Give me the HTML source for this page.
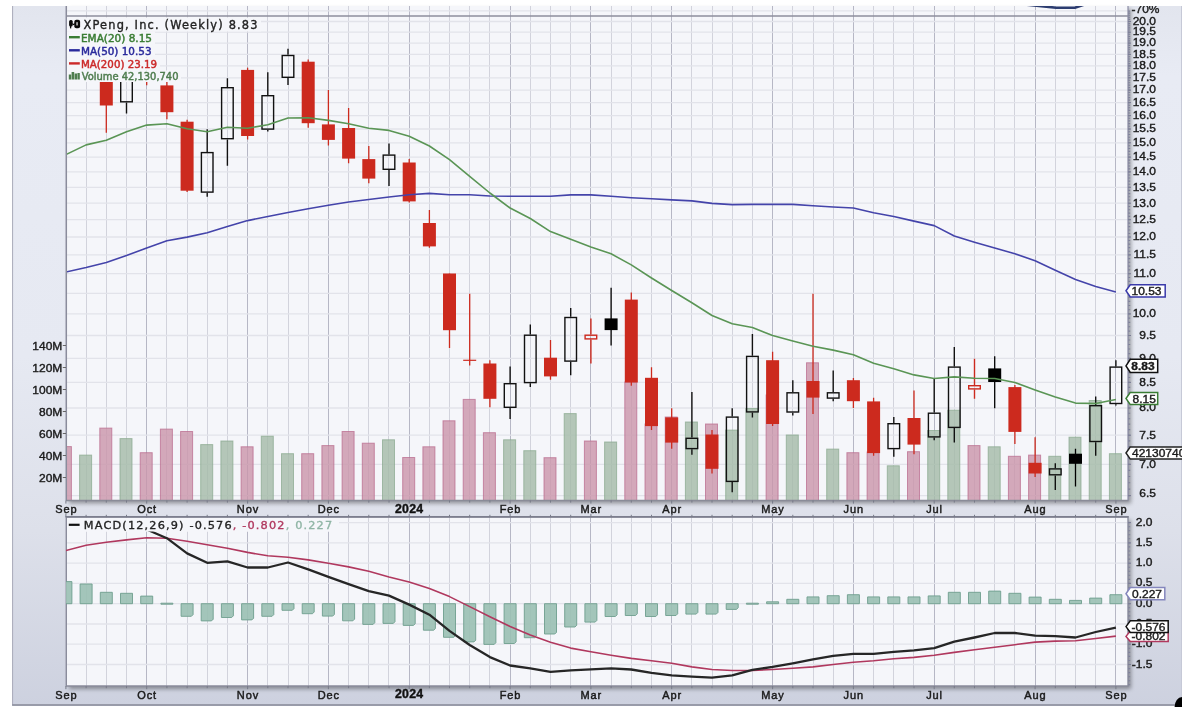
<!DOCTYPE html>
<html lang="en"><head><meta charset="utf-8"><title>XPeng, Inc. (Weekly)</title>
<style>
html,body{margin:0;padding:0;background:#fff;}
body{width:1190px;height:714px;overflow:hidden;}
svg{display:block;}
text{font-family:"Liberation Sans",sans-serif;font-size:12px;fill:#1a1a1a;stroke:#1a1a1a;stroke-width:0.38px;}
.dj{font-family:"DejaVu Sans","Liberation Sans",sans-serif;}
.djc{font-family:"DejaVu Sans Condensed","DejaVu Sans","Liberation Sans",sans-serif;}
</style></head><body>
<svg width="1190" height="714" viewBox="0 0 1190 714">
<defs>
<linearGradient id="bg" x1="0" y1="0" x2="0" y2="1"><stop offset="0" stop-color="#e2e5ee"/><stop offset="0.1" stop-color="#e8ebf4"/><stop offset="0.5" stop-color="#e6e9f2"/><stop offset="0.75" stop-color="#dde0ea"/><stop offset="1" stop-color="#cdd1df"/></linearGradient>
<filter id="sh" x="-2%" y="-2%" width="106%" height="108%"><feGaussianBlur in="SourceAlpha" stdDeviation="2.2"/><feOffset dx="3" dy="2.6"/><feComponentTransfer><feFuncA type="linear" slope="0.36"/></feComponentTransfer><feMerge><feMergeNode/><feMergeNode in="SourceGraphic"/></feMerge></filter>
<clipPath id="cm"><rect x="66.0" y="6.0" width="1062.0" height="494.4"/></clipPath>
<clipPath id="cd"><rect x="66.0" y="516.8" width="1062.0" height="169.2"/></clipPath>
<clipPath id="cg"><rect x="12.1" y="6" width="1169.9" height="699.9"/></clipPath>
</defs>
<rect x="12.1" y="6" width="1169.9" height="699.9" fill="url(#bg)"/>
<path d="M12.6 6V705H1182" fill="none" stroke="#a9abb9" stroke-width="1"/><path d="M1181.5 6V705" fill="none" stroke="#c6c9d7" stroke-width="1"/>
<path d="M12.1 705.1H1182" fill="none" stroke="#8d8f9e" stroke-width="1.5"/>
<path d="M1174.6 706.9A7.4 9.9 0 0 1 1182 697V706.9Z" fill="#000"/>
<g filter="url(#sh)"><rect x="66.0" y="6.0" width="1062.0" height="494.4" fill="#f5f6fa"/><rect x="66.0" y="516.8" width="1062.0" height="169.2" fill="#f5f6fa"/></g>
<g fill="none"><path d="M86.5 6.0V500.4" stroke="#d2d3dc" stroke-width="1"/><path d="M86.5 516.8V686.0" stroke="#d2d3dc" stroke-width="1"/><path d="M106.5 6.0V500.4" stroke="#d2d3dc" stroke-width="1"/><path d="M106.5 516.8V686.0" stroke="#d2d3dc" stroke-width="1"/><path d="M126.5 6.0V500.4" stroke="#d2d3dc" stroke-width="1"/><path d="M126.5 516.8V686.0" stroke="#d2d3dc" stroke-width="1"/><path d="M146.5 6.0V500.4" stroke="#b6b7c5" stroke-width="1"/><path d="M146.5 516.8V686.0" stroke="#b6b7c5" stroke-width="1"/><path d="M166.5 6.0V500.4" stroke="#d2d3dc" stroke-width="1"/><path d="M166.5 516.8V686.0" stroke="#d2d3dc" stroke-width="1"/><path d="M187.5 6.0V500.4" stroke="#d2d3dc" stroke-width="1"/><path d="M187.5 516.8V686.0" stroke="#d2d3dc" stroke-width="1"/><path d="M207.5 6.0V500.4" stroke="#d2d3dc" stroke-width="1"/><path d="M207.5 516.8V686.0" stroke="#d2d3dc" stroke-width="1"/><path d="M227.5 6.0V500.4" stroke="#d2d3dc" stroke-width="1"/><path d="M227.5 516.8V686.0" stroke="#d2d3dc" stroke-width="1"/><path d="M247.5 6.0V500.4" stroke="#b6b7c5" stroke-width="1"/><path d="M247.5 516.8V686.0" stroke="#b6b7c5" stroke-width="1"/><path d="M267.5 6.0V500.4" stroke="#d2d3dc" stroke-width="1"/><path d="M267.5 516.8V686.0" stroke="#d2d3dc" stroke-width="1"/><path d="M288.5 6.0V500.4" stroke="#d2d3dc" stroke-width="1"/><path d="M288.5 516.8V686.0" stroke="#d2d3dc" stroke-width="1"/><path d="M308.5 6.0V500.4" stroke="#d2d3dc" stroke-width="1"/><path d="M308.5 516.8V686.0" stroke="#d2d3dc" stroke-width="1"/><path d="M328.5 6.0V500.4" stroke="#b6b7c5" stroke-width="1"/><path d="M328.5 516.8V686.0" stroke="#b6b7c5" stroke-width="1"/><path d="M348.5 6.0V500.4" stroke="#d2d3dc" stroke-width="1"/><path d="M348.5 516.8V686.0" stroke="#d2d3dc" stroke-width="1"/><path d="M368.5 6.0V500.4" stroke="#d2d3dc" stroke-width="1"/><path d="M368.5 516.8V686.0" stroke="#d2d3dc" stroke-width="1"/><path d="M388.5 6.0V500.4" stroke="#d2d3dc" stroke-width="1"/><path d="M388.5 516.8V686.0" stroke="#d2d3dc" stroke-width="1"/><path d="M409.5 6.0V500.4" stroke="#b6b7c5" stroke-width="1"/><path d="M409.5 516.8V686.0" stroke="#b6b7c5" stroke-width="1"/><path d="M429.5 6.0V500.4" stroke="#d2d3dc" stroke-width="1"/><path d="M429.5 516.8V686.0" stroke="#d2d3dc" stroke-width="1"/><path d="M449.5 6.0V500.4" stroke="#d2d3dc" stroke-width="1"/><path d="M449.5 516.8V686.0" stroke="#d2d3dc" stroke-width="1"/><path d="M469.5 6.0V500.4" stroke="#d2d3dc" stroke-width="1"/><path d="M469.5 516.8V686.0" stroke="#d2d3dc" stroke-width="1"/><path d="M489.5 6.0V500.4" stroke="#d2d3dc" stroke-width="1"/><path d="M489.5 516.8V686.0" stroke="#d2d3dc" stroke-width="1"/><path d="M510.5 6.0V500.4" stroke="#b6b7c5" stroke-width="1"/><path d="M510.5 516.8V686.0" stroke="#b6b7c5" stroke-width="1"/><path d="M530.5 6.0V500.4" stroke="#d2d3dc" stroke-width="1"/><path d="M530.5 516.8V686.0" stroke="#d2d3dc" stroke-width="1"/><path d="M550.5 6.0V500.4" stroke="#d2d3dc" stroke-width="1"/><path d="M550.5 516.8V686.0" stroke="#d2d3dc" stroke-width="1"/><path d="M570.5 6.0V500.4" stroke="#d2d3dc" stroke-width="1"/><path d="M570.5 516.8V686.0" stroke="#d2d3dc" stroke-width="1"/><path d="M590.5 6.0V500.4" stroke="#b6b7c5" stroke-width="1"/><path d="M590.5 516.8V686.0" stroke="#b6b7c5" stroke-width="1"/><path d="M611.5 6.0V500.4" stroke="#d2d3dc" stroke-width="1"/><path d="M611.5 516.8V686.0" stroke="#d2d3dc" stroke-width="1"/><path d="M631.5 6.0V500.4" stroke="#d2d3dc" stroke-width="1"/><path d="M631.5 516.8V686.0" stroke="#d2d3dc" stroke-width="1"/><path d="M651.5 6.0V500.4" stroke="#d2d3dc" stroke-width="1"/><path d="M651.5 516.8V686.0" stroke="#d2d3dc" stroke-width="1"/><path d="M671.5 6.0V500.4" stroke="#b6b7c5" stroke-width="1"/><path d="M671.5 516.8V686.0" stroke="#b6b7c5" stroke-width="1"/><path d="M691.5 6.0V500.4" stroke="#d2d3dc" stroke-width="1"/><path d="M691.5 516.8V686.0" stroke="#d2d3dc" stroke-width="1"/><path d="M712.5 6.0V500.4" stroke="#d2d3dc" stroke-width="1"/><path d="M712.5 516.8V686.0" stroke="#d2d3dc" stroke-width="1"/><path d="M732.5 6.0V500.4" stroke="#d2d3dc" stroke-width="1"/><path d="M732.5 516.8V686.0" stroke="#d2d3dc" stroke-width="1"/><path d="M752.5 6.0V500.4" stroke="#d2d3dc" stroke-width="1"/><path d="M752.5 516.8V686.0" stroke="#d2d3dc" stroke-width="1"/><path d="M772.5 6.0V500.4" stroke="#b6b7c5" stroke-width="1"/><path d="M772.5 516.8V686.0" stroke="#b6b7c5" stroke-width="1"/><path d="M792.5 6.0V500.4" stroke="#d2d3dc" stroke-width="1"/><path d="M792.5 516.8V686.0" stroke="#d2d3dc" stroke-width="1"/><path d="M813.5 6.0V500.4" stroke="#d2d3dc" stroke-width="1"/><path d="M813.5 516.8V686.0" stroke="#d2d3dc" stroke-width="1"/><path d="M833.5 6.0V500.4" stroke="#d2d3dc" stroke-width="1"/><path d="M833.5 516.8V686.0" stroke="#d2d3dc" stroke-width="1"/><path d="M853.5 6.0V500.4" stroke="#b6b7c5" stroke-width="1"/><path d="M853.5 516.8V686.0" stroke="#b6b7c5" stroke-width="1"/><path d="M873.5 6.0V500.4" stroke="#d2d3dc" stroke-width="1"/><path d="M873.5 516.8V686.0" stroke="#d2d3dc" stroke-width="1"/><path d="M893.5 6.0V500.4" stroke="#d2d3dc" stroke-width="1"/><path d="M893.5 516.8V686.0" stroke="#d2d3dc" stroke-width="1"/><path d="M913.5 6.0V500.4" stroke="#d2d3dc" stroke-width="1"/><path d="M913.5 516.8V686.0" stroke="#d2d3dc" stroke-width="1"/><path d="M934.5 6.0V500.4" stroke="#b6b7c5" stroke-width="1"/><path d="M934.5 516.8V686.0" stroke="#b6b7c5" stroke-width="1"/><path d="M954.5 6.0V500.4" stroke="#d2d3dc" stroke-width="1"/><path d="M954.5 516.8V686.0" stroke="#d2d3dc" stroke-width="1"/><path d="M974.5 6.0V500.4" stroke="#d2d3dc" stroke-width="1"/><path d="M974.5 516.8V686.0" stroke="#d2d3dc" stroke-width="1"/><path d="M994.5 6.0V500.4" stroke="#d2d3dc" stroke-width="1"/><path d="M994.5 516.8V686.0" stroke="#d2d3dc" stroke-width="1"/><path d="M1014.5 6.0V500.4" stroke="#d2d3dc" stroke-width="1"/><path d="M1014.5 516.8V686.0" stroke="#d2d3dc" stroke-width="1"/><path d="M1035.5 6.0V500.4" stroke="#b6b7c5" stroke-width="1"/><path d="M1035.5 516.8V686.0" stroke="#b6b7c5" stroke-width="1"/><path d="M1055.5 6.0V500.4" stroke="#d2d3dc" stroke-width="1"/><path d="M1055.5 516.8V686.0" stroke="#d2d3dc" stroke-width="1"/><path d="M1075.5 6.0V500.4" stroke="#d2d3dc" stroke-width="1"/><path d="M1075.5 516.8V686.0" stroke="#d2d3dc" stroke-width="1"/><path d="M1095.5 6.0V500.4" stroke="#d2d3dc" stroke-width="1"/><path d="M1095.5 516.8V686.0" stroke="#d2d3dc" stroke-width="1"/><path d="M1115.5 6.0V500.4" stroke="#b6b7c5" stroke-width="1"/><path d="M1115.5 516.8V686.0" stroke="#b6b7c5" stroke-width="1"/><path d="M66.0 495.6H1128.0" stroke="#e2e3ea" stroke-width="1.3"/><path d="M66.0 464.3H1128.0" stroke="#e2e3ea" stroke-width="1.3"/><path d="M66.0 435.2H1128.0" stroke="#e2e3ea" stroke-width="1.3"/><path d="M66.0 408.0H1128.0" stroke="#e2e3ea" stroke-width="1.3"/><path d="M66.0 382.4H1128.0" stroke="#e2e3ea" stroke-width="1.3"/><path d="M66.0 358.3H1128.0" stroke="#e2e3ea" stroke-width="1.3"/><path d="M66.0 335.5H1128.0" stroke="#e2e3ea" stroke-width="1.3"/><path d="M66.0 313.9H1128.0" stroke="#e2e3ea" stroke-width="1.3"/><path d="M66.0 293.3H1128.0" stroke="#e2e3ea" stroke-width="1.3"/><path d="M66.0 273.7H1128.0" stroke="#e2e3ea" stroke-width="1.3"/><path d="M66.0 254.9H1128.0" stroke="#e2e3ea" stroke-width="1.3"/><path d="M66.0 237.0H1128.0" stroke="#e2e3ea" stroke-width="1.3"/><path d="M66.0 219.7H1128.0" stroke="#e2e3ea" stroke-width="1.3"/><path d="M66.0 203.2H1128.0" stroke="#e2e3ea" stroke-width="1.3"/><path d="M66.0 187.3H1128.0" stroke="#e2e3ea" stroke-width="1.3"/><path d="M66.0 171.9H1128.0" stroke="#e2e3ea" stroke-width="1.3"/><path d="M66.0 157.1H1128.0" stroke="#e2e3ea" stroke-width="1.3"/><path d="M66.0 142.8H1128.0" stroke="#e2e3ea" stroke-width="1.3"/><path d="M66.0 129.0H1128.0" stroke="#e2e3ea" stroke-width="1.3"/><path d="M66.0 115.6H1128.0" stroke="#e2e3ea" stroke-width="1.3"/><path d="M66.0 102.6H1128.0" stroke="#e2e3ea" stroke-width="1.3"/><path d="M66.0 90.1H1128.0" stroke="#e2e3ea" stroke-width="1.3"/><path d="M66.0 77.8H1128.0" stroke="#e2e3ea" stroke-width="1.3"/><path d="M66.0 65.9H1128.0" stroke="#e2e3ea" stroke-width="1.3"/><path d="M66.0 54.4H1128.0" stroke="#e2e3ea" stroke-width="1.3"/><path d="M66.0 43.1H1128.0" stroke="#e2e3ea" stroke-width="1.3"/><path d="M66.0 32.2H1128.0" stroke="#e2e3ea" stroke-width="1.3"/><path d="M66.0 21.5H1128.0" stroke="#e2e3ea" stroke-width="1.3"/><path d="M66.0 10.9H1128.0" stroke="#e2e3ea" stroke-width="1.3"/><path d="M66.0 522.6H1128.0" stroke="#e2e3ea" stroke-width="1.3"/><path d="M66.0 542.9H1128.0" stroke="#e2e3ea" stroke-width="1.3"/><path d="M66.0 563.2H1128.0" stroke="#e2e3ea" stroke-width="1.3"/><path d="M66.0 583.4H1128.0" stroke="#e2e3ea" stroke-width="1.3"/><path d="M66.0 603.7H1128.0" stroke="#e2e3ea" stroke-width="1.3"/><path d="M66.0 624.0H1128.0" stroke="#e2e3ea" stroke-width="1.3"/><path d="M66.0 644.2H1128.0" stroke="#e2e3ea" stroke-width="1.3"/><path d="M66.0 664.5H1128.0" stroke="#e2e3ea" stroke-width="1.3"/></g>
<path d="M1016 3.6L1056 7.7L1075 7.7L1086 4" fill="none" stroke="#2c3c70" stroke-width="2.6" clip-path="url(#cm)"/>
<g clip-path="url(#cm)"><rect x="59.4" y="446.6" width="12" height="55.8" fill="#cb95aa" fill-opacity="0.8" stroke="#b8678a" stroke-width="1" stroke-opacity="0.7"/><rect x="79.6" y="455.1" width="12" height="47.3" fill="#a4baa8" fill-opacity="0.8" stroke="#86a78c" stroke-width="1" stroke-opacity="0.7"/><rect x="99.8" y="428.1" width="12" height="74.3" fill="#cb95aa" fill-opacity="0.8" stroke="#b8678a" stroke-width="1" stroke-opacity="0.7"/><rect x="120.0" y="438.6" width="12" height="63.8" fill="#a4baa8" fill-opacity="0.8" stroke="#86a78c" stroke-width="1" stroke-opacity="0.7"/><rect x="140.2" y="452.7" width="12" height="49.7" fill="#cb95aa" fill-opacity="0.8" stroke="#b8678a" stroke-width="1" stroke-opacity="0.7"/><rect x="160.4" y="429.1" width="12" height="73.3" fill="#cb95aa" fill-opacity="0.8" stroke="#b8678a" stroke-width="1" stroke-opacity="0.7"/><rect x="180.6" y="431.5" width="12" height="70.9" fill="#cb95aa" fill-opacity="0.8" stroke="#b8678a" stroke-width="1" stroke-opacity="0.7"/><rect x="200.7" y="444.6" width="12" height="57.8" fill="#a4baa8" fill-opacity="0.8" stroke="#86a78c" stroke-width="1" stroke-opacity="0.7"/><rect x="220.9" y="441.0" width="12" height="61.4" fill="#a4baa8" fill-opacity="0.8" stroke="#86a78c" stroke-width="1" stroke-opacity="0.7"/><rect x="241.1" y="446.8" width="12" height="55.6" fill="#cb95aa" fill-opacity="0.8" stroke="#b8678a" stroke-width="1" stroke-opacity="0.7"/><rect x="261.3" y="436.2" width="12" height="66.2" fill="#a4baa8" fill-opacity="0.8" stroke="#86a78c" stroke-width="1" stroke-opacity="0.7"/><rect x="281.5" y="453.7" width="12" height="48.7" fill="#a4baa8" fill-opacity="0.8" stroke="#86a78c" stroke-width="1" stroke-opacity="0.7"/><rect x="301.7" y="453.7" width="12" height="48.7" fill="#cb95aa" fill-opacity="0.8" stroke="#b8678a" stroke-width="1" stroke-opacity="0.7"/><rect x="321.9" y="445.6" width="12" height="56.8" fill="#cb95aa" fill-opacity="0.8" stroke="#b8678a" stroke-width="1" stroke-opacity="0.7"/><rect x="342.1" y="431.5" width="12" height="70.9" fill="#cb95aa" fill-opacity="0.8" stroke="#b8678a" stroke-width="1" stroke-opacity="0.7"/><rect x="362.3" y="443.2" width="12" height="59.2" fill="#cb95aa" fill-opacity="0.8" stroke="#b8678a" stroke-width="1" stroke-opacity="0.7"/><rect x="382.5" y="439.8" width="12" height="62.6" fill="#a4baa8" fill-opacity="0.8" stroke="#86a78c" stroke-width="1" stroke-opacity="0.7"/><rect x="402.7" y="457.5" width="12" height="44.9" fill="#cb95aa" fill-opacity="0.8" stroke="#b8678a" stroke-width="1" stroke-opacity="0.7"/><rect x="422.9" y="446.8" width="12" height="55.6" fill="#cb95aa" fill-opacity="0.8" stroke="#b8678a" stroke-width="1" stroke-opacity="0.7"/><rect x="443.0" y="420.8" width="12" height="81.6" fill="#cb95aa" fill-opacity="0.8" stroke="#b8678a" stroke-width="1" stroke-opacity="0.7"/><rect x="463.2" y="399.4" width="12" height="103.0" fill="#cb95aa" fill-opacity="0.8" stroke="#b8678a" stroke-width="1" stroke-opacity="0.7"/><rect x="483.4" y="432.7" width="12" height="69.7" fill="#cb95aa" fill-opacity="0.8" stroke="#b8678a" stroke-width="1" stroke-opacity="0.7"/><rect x="503.6" y="439.8" width="12" height="62.6" fill="#a4baa8" fill-opacity="0.8" stroke="#86a78c" stroke-width="1" stroke-opacity="0.7"/><rect x="523.8" y="450.7" width="12" height="51.7" fill="#a4baa8" fill-opacity="0.8" stroke="#86a78c" stroke-width="1" stroke-opacity="0.7"/><rect x="544.0" y="457.7" width="12" height="44.7" fill="#cb95aa" fill-opacity="0.8" stroke="#b8678a" stroke-width="1" stroke-opacity="0.7"/><rect x="564.2" y="413.6" width="12" height="88.8" fill="#a4baa8" fill-opacity="0.8" stroke="#86a78c" stroke-width="1" stroke-opacity="0.7"/><rect x="584.4" y="441.0" width="12" height="61.4" fill="#cb95aa" fill-opacity="0.8" stroke="#b8678a" stroke-width="1" stroke-opacity="0.7"/><rect x="604.6" y="442.0" width="12" height="60.4" fill="#a4baa8" fill-opacity="0.8" stroke="#86a78c" stroke-width="1" stroke-opacity="0.7"/><rect x="624.8" y="382.0" width="12" height="120.4" fill="#cb95aa" fill-opacity="0.8" stroke="#b8678a" stroke-width="1" stroke-opacity="0.7"/><rect x="645.0" y="424.0" width="12" height="78.4" fill="#cb95aa" fill-opacity="0.8" stroke="#b8678a" stroke-width="1" stroke-opacity="0.7"/><rect x="665.2" y="417.0" width="12" height="85.4" fill="#cb95aa" fill-opacity="0.8" stroke="#b8678a" stroke-width="1" stroke-opacity="0.7"/><rect x="685.4" y="422.0" width="12" height="80.4" fill="#a4baa8" fill-opacity="0.8" stroke="#86a78c" stroke-width="1" stroke-opacity="0.7"/><rect x="705.5" y="424.0" width="12" height="78.4" fill="#cb95aa" fill-opacity="0.8" stroke="#b8678a" stroke-width="1" stroke-opacity="0.7"/><rect x="725.7" y="430.1" width="12" height="72.3" fill="#a4baa8" fill-opacity="0.8" stroke="#86a78c" stroke-width="1" stroke-opacity="0.7"/><rect x="745.9" y="408.5" width="12" height="93.9" fill="#a4baa8" fill-opacity="0.8" stroke="#86a78c" stroke-width="1" stroke-opacity="0.7"/><rect x="766.1" y="395.0" width="12" height="107.4" fill="#cb95aa" fill-opacity="0.8" stroke="#b8678a" stroke-width="1" stroke-opacity="0.7"/><rect x="786.3" y="435.0" width="12" height="67.4" fill="#a4baa8" fill-opacity="0.8" stroke="#86a78c" stroke-width="1" stroke-opacity="0.7"/><rect x="806.5" y="362.8" width="12" height="139.6" fill="#cb95aa" fill-opacity="0.8" stroke="#b8678a" stroke-width="1" stroke-opacity="0.7"/><rect x="826.7" y="449.1" width="12" height="53.3" fill="#a4baa8" fill-opacity="0.8" stroke="#86a78c" stroke-width="1" stroke-opacity="0.7"/><rect x="846.9" y="452.7" width="12" height="49.7" fill="#cb95aa" fill-opacity="0.8" stroke="#b8678a" stroke-width="1" stroke-opacity="0.7"/><rect x="867.1" y="452.0" width="12" height="50.4" fill="#cb95aa" fill-opacity="0.8" stroke="#b8678a" stroke-width="1" stroke-opacity="0.7"/><rect x="887.3" y="465.8" width="12" height="36.6" fill="#a4baa8" fill-opacity="0.8" stroke="#86a78c" stroke-width="1" stroke-opacity="0.7"/><rect x="907.5" y="451.7" width="12" height="50.7" fill="#cb95aa" fill-opacity="0.8" stroke="#b8678a" stroke-width="1" stroke-opacity="0.7"/><rect x="927.7" y="430.5" width="12" height="71.9" fill="#a4baa8" fill-opacity="0.8" stroke="#86a78c" stroke-width="1" stroke-opacity="0.7"/><rect x="947.8" y="410.2" width="12" height="92.2" fill="#a4baa8" fill-opacity="0.8" stroke="#86a78c" stroke-width="1" stroke-opacity="0.7"/><rect x="968.0" y="445.6" width="12" height="56.8" fill="#cb95aa" fill-opacity="0.8" stroke="#b8678a" stroke-width="1" stroke-opacity="0.7"/><rect x="988.2" y="446.8" width="12" height="55.6" fill="#a4baa8" fill-opacity="0.8" stroke="#86a78c" stroke-width="1" stroke-opacity="0.7"/><rect x="1008.4" y="456.3" width="12" height="46.1" fill="#cb95aa" fill-opacity="0.8" stroke="#b8678a" stroke-width="1" stroke-opacity="0.7"/><rect x="1028.6" y="455.1" width="12" height="47.3" fill="#cb95aa" fill-opacity="0.8" stroke="#b8678a" stroke-width="1" stroke-opacity="0.7"/><rect x="1048.8" y="456.3" width="12" height="46.1" fill="#a4baa8" fill-opacity="0.8" stroke="#86a78c" stroke-width="1" stroke-opacity="0.7"/><rect x="1069.0" y="437.2" width="12" height="65.2" fill="#a4baa8" fill-opacity="0.8" stroke="#86a78c" stroke-width="1" stroke-opacity="0.7"/><rect x="1089.2" y="400.5" width="12" height="101.9" fill="#a4baa8" fill-opacity="0.8" stroke="#86a78c" stroke-width="1" stroke-opacity="0.7"/><rect x="1109.4" y="453.7" width="12" height="48.7" fill="#a4baa8" fill-opacity="0.8" stroke="#86a78c" stroke-width="1" stroke-opacity="0.7"/></g>
<g clip-path="url(#cm)"><path d="M106.3 74.0V132.8" stroke="#cc2a1e" stroke-width="1.3"/><rect x="99.8" y="74.0" width="13" height="31.5" fill="#cc2a1e"/><path d="M126.5 74.0V74.0M126.5 102.5V113.6" stroke="#111" stroke-width="1.4"/><rect x="120.7" y="74.7" width="11.6" height="27.1" fill="none" stroke="#111" stroke-width="1.4"/><path d="M146.7 74.0V85.3" stroke="#cc2a1e" stroke-width="1.3"/><rect x="140.2" y="74.0" width="13" height="6.0" fill="#cc2a1e"/><path d="M166.9 82.0V119.3" stroke="#cc2a1e" stroke-width="1.3"/><rect x="160.4" y="85.4" width="13" height="26.8" fill="#cc2a1e"/><path d="M187.1 119.7V192.0" stroke="#cc2a1e" stroke-width="1.3"/><rect x="180.6" y="121.7" width="13" height="69.0" fill="#cc2a1e"/><path d="M207.2 129.3V151.9M207.2 192.8V196.8" stroke="#111" stroke-width="1.4"/><rect x="201.4" y="152.6" width="11.6" height="39.5" fill="none" stroke="#111" stroke-width="1.4"/><path d="M227.4 78.3V87.0M227.4 139.4V165.7" stroke="#111" stroke-width="1.4"/><rect x="221.6" y="87.7" width="11.6" height="51.0" fill="none" stroke="#111" stroke-width="1.4"/><path d="M247.6 67.8V139.4" stroke="#cc2a1e" stroke-width="1.3"/><rect x="241.1" y="69.9" width="13" height="66.1" fill="#cc2a1e"/><path d="M267.8 72.3V95.0M267.8 129.8V131.4" stroke="#111" stroke-width="1.4"/><rect x="262.0" y="95.7" width="11.6" height="33.4" fill="none" stroke="#111" stroke-width="1.4"/><path d="M288.0 48.8V54.8M288.0 78.0V85.1" stroke="#111" stroke-width="1.4"/><rect x="282.2" y="55.5" width="11.6" height="21.8" fill="none" stroke="#111" stroke-width="1.4"/><path d="M308.2 59.6V127.8" stroke="#cc2a1e" stroke-width="1.3"/><rect x="301.7" y="61.7" width="13" height="61.5" fill="#cc2a1e"/><path d="M328.4 90.1V145.6" stroke="#cc2a1e" stroke-width="1.3"/><rect x="321.9" y="124.4" width="13" height="15.5" fill="#cc2a1e"/><path d="M348.6 108.0V163.3" stroke="#cc2a1e" stroke-width="1.3"/><rect x="342.1" y="128.0" width="13" height="30.6" fill="#cc2a1e"/><path d="M368.8 146.0V183.3" stroke="#cc2a1e" stroke-width="1.3"/><rect x="362.3" y="159.1" width="13" height="19.5" fill="#cc2a1e"/><path d="M389.0 143.6V154.4M389.0 170.0V185.9" stroke="#111" stroke-width="1.4"/><rect x="383.2" y="155.1" width="11.6" height="14.2" fill="none" stroke="#111" stroke-width="1.4"/><path d="M409.2 159.1V202.4" stroke="#cc2a1e" stroke-width="1.3"/><rect x="402.7" y="162.5" width="13" height="38.9" fill="#cc2a1e"/><path d="M429.4 209.9V247.8" stroke="#cc2a1e" stroke-width="1.3"/><rect x="422.9" y="223.0" width="13" height="23.4" fill="#cc2a1e"/><path d="M449.5 273.5V348.1" stroke="#cc2a1e" stroke-width="1.3"/><rect x="443.0" y="273.5" width="13" height="56.7" fill="#cc2a1e"/><path d="M469.7 293.7V365.5" stroke="#cc2a1e" stroke-width="1.3"/><rect x="463.2" y="359.7" width="13" height="1.2" fill="#cc2a1e"/><path d="M489.9 360.2V407.3" stroke="#cc2a1e" stroke-width="1.3"/><rect x="483.4" y="363.5" width="13" height="35.3" fill="#cc2a1e"/><path d="M510.1 366.4V383.0M510.1 408.0V419.0" stroke="#111" stroke-width="1.4"/><rect x="504.3" y="383.7" width="11.6" height="23.6" fill="none" stroke="#111" stroke-width="1.4"/><path d="M530.3 324.5V334.5M530.3 383.3V387.0" stroke="#111" stroke-width="1.4"/><rect x="524.5" y="335.2" width="11.6" height="47.4" fill="none" stroke="#111" stroke-width="1.4"/><path d="M550.5 340.0V379.8" stroke="#cc2a1e" stroke-width="1.3"/><rect x="544.0" y="357.7" width="13" height="18.7" fill="#cc2a1e"/><path d="M570.7 307.9V316.8M570.7 361.8V375.2" stroke="#111" stroke-width="1.4"/><rect x="564.9" y="317.5" width="11.6" height="43.6" fill="none" stroke="#111" stroke-width="1.4"/><path d="M590.9 318.4V334.5M590.9 339.6V363.4" stroke="#cc2a1e" stroke-width="1.4"/><rect x="585.1" y="335.2" width="11.6" height="3.7" fill="none" stroke="#cc2a1e" stroke-width="1.4"/><path d="M611.1 287.7V345.6" stroke="#000" stroke-width="1.3"/><rect x="604.6" y="318.4" width="13" height="11.7" fill="#000"/><path d="M631.3 292.6V385.8" stroke="#cc2a1e" stroke-width="1.3"/><rect x="624.8" y="299.6" width="13" height="82.9" fill="#cc2a1e"/><path d="M651.5 367.2V429.9" stroke="#cc2a1e" stroke-width="1.3"/><rect x="645.0" y="377.8" width="13" height="48.3" fill="#cc2a1e"/><path d="M671.7 408.3V448.7" stroke="#cc2a1e" stroke-width="1.3"/><rect x="665.2" y="417.4" width="13" height="25.2" fill="#cc2a1e"/><path d="M691.9 391.9V437.6M691.9 449.3V454.7" stroke="#111" stroke-width="1.4"/><rect x="686.1" y="438.3" width="11.6" height="10.3" fill="none" stroke="#111" stroke-width="1.4"/><path d="M712.0 429.9V473.5" stroke="#cc2a1e" stroke-width="1.3"/><rect x="705.5" y="434.5" width="13" height="34.3" fill="#cc2a1e"/><path d="M732.2 408.3V416.4M732.2 482.1V492.2" stroke="#111" stroke-width="1.4"/><rect x="726.4" y="417.1" width="11.6" height="64.3" fill="none" stroke="#111" stroke-width="1.4"/><path d="M752.4 334.1V355.7M752.4 412.6V417.4" stroke="#111" stroke-width="1.4"/><rect x="746.6" y="356.4" width="11.6" height="55.5" fill="none" stroke="#111" stroke-width="1.4"/><path d="M772.6 351.7V426.0" stroke="#cc2a1e" stroke-width="1.3"/><rect x="766.1" y="360.2" width="13" height="63.8" fill="#cc2a1e"/><path d="M792.8 380.2V392.1M792.8 412.7V415.4" stroke="#111" stroke-width="1.4"/><rect x="787.0" y="392.8" width="11.6" height="19.2" fill="none" stroke="#111" stroke-width="1.4"/><path d="M813.0 293.8V414.0" stroke="#cc2a1e" stroke-width="1.3"/><rect x="806.5" y="381.0" width="13" height="16.6" fill="#cc2a1e"/><path d="M833.2 370.4V392.1M833.2 398.8V401.2" stroke="#111" stroke-width="1.4"/><rect x="827.4" y="392.8" width="11.6" height="5.3" fill="none" stroke="#111" stroke-width="1.4"/><path d="M853.4 378.0V408.0" stroke="#cc2a1e" stroke-width="1.3"/><rect x="846.9" y="380.2" width="13" height="21.0" fill="#cc2a1e"/><path d="M873.6 397.8V455.7" stroke="#cc2a1e" stroke-width="1.3"/><rect x="867.1" y="401.4" width="13" height="51.7" fill="#cc2a1e"/><path d="M893.8 417.0V423.0M893.8 449.3V456.7" stroke="#111" stroke-width="1.4"/><rect x="888.0" y="423.7" width="11.6" height="24.9" fill="none" stroke="#111" stroke-width="1.4"/><path d="M914.0 390.6V454.3" stroke="#cc2a1e" stroke-width="1.3"/><rect x="907.5" y="418.0" width="13" height="26.6" fill="#cc2a1e"/><path d="M934.2 378.3V412.5M934.2 437.6V440.2" stroke="#111" stroke-width="1.4"/><rect x="928.4" y="413.2" width="11.6" height="23.7" fill="none" stroke="#111" stroke-width="1.4"/><path d="M954.3 347.0V366.4M954.3 428.1V442.6" stroke="#111" stroke-width="1.4"/><rect x="948.5" y="367.1" width="11.6" height="60.3" fill="none" stroke="#111" stroke-width="1.4"/><path d="M974.5 358.7V385.0M974.5 389.6V398.8" stroke="#cc2a1e" stroke-width="1.4"/><rect x="968.7" y="385.7" width="11.6" height="3.2" fill="none" stroke="#cc2a1e" stroke-width="1.4"/><path d="M994.7 356.3V408.3" stroke="#000" stroke-width="1.3"/><rect x="988.2" y="368.4" width="13" height="13.6" fill="#000"/><path d="M1014.9 385.1V444.0" stroke="#cc2a1e" stroke-width="1.3"/><rect x="1008.4" y="387.1" width="13" height="44.8" fill="#cc2a1e"/><path d="M1035.1 437.2V476.9" stroke="#cc2a1e" stroke-width="1.3"/><rect x="1028.6" y="462.8" width="13" height="10.7" fill="#cc2a1e"/><path d="M1055.3 463.2V468.2M1055.3 475.5V490.0" stroke="#111" stroke-width="1.4"/><rect x="1049.5" y="468.9" width="11.6" height="5.9" fill="none" stroke="#111" stroke-width="1.4"/><path d="M1075.5 448.7V486.6" stroke="#000" stroke-width="1.3"/><rect x="1069.0" y="453.7" width="13" height="10.1" fill="#000"/><path d="M1095.7 396.4V405.0M1095.7 442.2V455.7" stroke="#111" stroke-width="1.4"/><rect x="1089.9" y="405.7" width="11.6" height="35.8" fill="none" stroke="#111" stroke-width="1.4"/><path d="M1115.9 360.2V366.4M1115.9 404.2V405.6" stroke="#111" stroke-width="1.4"/><rect x="1110.1" y="367.1" width="11.6" height="36.4" fill="none" stroke="#111" stroke-width="1.4"/></g>
<polyline points="65.9,272.0 86.1,267.5 106.3,262.5 126.5,255.5 146.7,248.0 166.9,240.8 187.1,237.1 207.2,232.7 227.4,226.5 247.6,220.6 267.8,216.5 288.0,212.5 308.2,208.8 328.4,205.2 348.6,202.0 368.8,199.5 389.0,197.0 409.2,194.8 429.4,193.4 449.5,194.8 469.7,194.8 489.9,196.0 510.1,196.3 530.3,196.3 550.5,196.3 570.7,194.9 590.9,194.9 611.1,196.3 631.3,197.7 651.5,198.7 671.7,199.9 691.9,200.9 712.0,203.4 732.2,204.6 752.4,204.4 772.6,204.4 792.8,204.4 813.0,205.8 833.2,207.0 853.4,208.0 873.6,212.8 893.8,216.5 914.0,221.1 934.2,225.6 954.3,236.0 974.5,242.2 994.7,248.1 1014.9,253.7 1035.1,260.8 1055.3,270.2 1075.5,279.5 1095.7,286.6 1115.9,292.0" fill="none" stroke="#4444aa" stroke-width="1.6" stroke-linejoin="round" clip-path="url(#cm)" />
<polyline points="65.9,154.6 86.1,144.9 106.3,140.2 126.5,131.8 146.7,125.1 166.9,123.7 187.1,128.7 207.2,131.8 227.4,127.3 247.6,128.3 267.8,124.7 288.0,118.0 308.2,117.7 328.4,120.4 348.6,123.8 368.8,128.2 389.0,130.4 409.2,136.3 429.4,146.0 449.5,159.6 469.7,176.3 489.9,193.0 510.1,208.0 530.3,218.5 550.5,231.6 570.7,239.3 590.9,247.1 611.1,253.8 631.3,264.9 651.5,278.0 671.7,290.5 691.9,302.8 712.0,315.5 732.2,323.8 752.4,327.5 772.6,335.6 792.8,341.0 813.0,346.2 833.2,350.1 853.4,354.7 873.6,363.2 893.8,368.8 914.0,374.9 934.2,378.5 954.3,376.9 974.5,378.3 994.7,378.5 1014.9,382.5 1035.1,390.0 1055.3,397.0 1075.5,403.1 1095.7,403.5 1115.9,399.5" fill="none" stroke="#5a9555" stroke-width="1.6" stroke-linejoin="round" clip-path="url(#cm)" />
<path d="M66.0 16.0H1128.0" stroke="#8c8e9c" stroke-width="1.6" fill="none"/>
<path d="M66.3 6.0V500.4" stroke="#8a8c9c" stroke-width="1.5" fill="none"/>
<path d="M66.0 500.4H1128.5" stroke="#8a8c98" stroke-width="1.5" fill="none"/>
<path d="M1128.0 6.0V500.4" stroke="#8a8ca4" stroke-width="1.2" fill="none"/>
<path d="M66.3 516.8H1128.0V686.0H66.3Z" stroke="#8a8c9c" stroke-width="1.4" fill="none"/>
<path d="M65.6 516.8H1128.5" stroke="#7c7e8e" stroke-width="1.7" fill="none"/>
<path d="M1128.3 495.6h1.9M1128.3 489.1h1.9M1128.3 482.8h1.9M1128.3 476.5h1.9M1128.3 470.4h1.9M1128.3 464.3h1.9M1128.3 458.3h1.9M1128.3 452.4h1.9M1128.3 446.6h1.9M1128.3 440.9h1.9M1128.3 435.2h1.9M1128.3 429.6h1.9M1128.3 424.1h1.9M1128.3 418.7h1.9M1128.3 413.3h1.9M1128.3 408.0h1.9M1128.3 402.8h1.9M1128.3 397.6h1.9M1128.3 392.5h1.9M1128.3 387.4h1.9M1128.3 382.4h1.9M1128.3 377.5h1.9M1128.3 372.6h1.9M1128.3 367.8h1.9M1128.3 363.0h1.9M1128.3 358.3h1.9M1128.3 353.6h1.9M1128.3 349.0h1.9M1128.3 344.5h1.9M1128.3 340.0h1.9M1128.3 335.5h1.9M1128.3 331.1h1.9M1128.3 326.7h1.9M1128.3 322.4h1.9M1128.3 318.1h1.9M1128.3 313.9h1.9M1128.3 309.7h1.9M1128.3 305.5h1.9M1128.3 301.4h1.9M1128.3 297.3h1.9M1128.3 293.3h1.9M1128.3 289.3h1.9M1128.3 285.3h1.9M1128.3 281.4h1.9M1128.3 277.5h1.9M1128.3 273.7h1.9M1128.3 269.9h1.9M1128.3 266.1h1.9M1128.3 262.3h1.9M1128.3 258.6h1.9M1128.3 254.9h1.9M1128.3 251.3h1.9M1128.3 247.6h1.9M1128.3 244.1h1.9M1128.3 240.5h1.9M1128.3 237.0h1.9M1128.3 233.5h1.9M1128.3 230.0h1.9M1128.3 226.6h1.9M1128.3 223.1h1.9M1128.3 219.7h1.9M1128.3 216.4h1.9M1128.3 213.1h1.9M1128.3 209.7h1.9M1128.3 206.5h1.9M1128.3 203.2h1.9M1128.3 200.0h1.9M1128.3 196.8h1.9M1128.3 193.6h1.9M1128.3 190.4h1.9M1128.3 187.3h1.9M1128.3 184.2h1.9M1128.3 181.1h1.9M1128.3 178.0h1.9M1128.3 175.0h1.9M1128.3 171.9h1.9M1128.3 168.9h1.9M1128.3 166.0h1.9M1128.3 163.0h1.9M1128.3 160.1h1.9M1128.3 157.1h1.9M1128.3 154.2h1.9M1128.3 151.4h1.9M1128.3 148.5h1.9M1128.3 145.7h1.9M1128.3 142.8h1.9M1128.3 140.0h1.9M1128.3 137.3h1.9M1128.3 134.5h1.9M1128.3 131.7h1.9M1128.3 129.0h1.9M1128.3 126.3h1.9M1128.3 123.6h1.9M1128.3 120.9h1.9M1128.3 118.3h1.9M1128.3 115.6h1.9M1128.3 113.0h1.9M1128.3 110.4h1.9M1128.3 107.8h1.9M1128.3 105.2h1.9M1128.3 102.6h1.9M1128.3 100.1h1.9M1128.3 97.6h1.9M1128.3 95.0h1.9M1128.3 92.5h1.9M1128.3 90.1h1.9M1128.3 87.6h1.9M1128.3 85.1h1.9M1128.3 82.7h1.9M1128.3 80.2h1.9M1128.3 77.8h1.9M1128.3 75.4h1.9M1128.3 73.0h1.9M1128.3 70.7h1.9M1128.3 68.3h1.9M1128.3 65.9h1.9M1128.3 63.6h1.9M1128.3 61.3h1.9M1128.3 59.0h1.9M1128.3 56.7h1.9M1128.3 54.4h1.9M1128.3 52.1h1.9M1128.3 49.8h1.9M1128.3 47.6h1.9M1128.3 45.4h1.9M1128.3 43.1h1.9M1128.3 40.9h1.9M1128.3 38.7h1.9M1128.3 36.5h1.9M1128.3 34.3h1.9M1128.3 32.2h1.9M1128.3 30.0h1.9M1128.3 27.9h1.9M1128.3 25.7h1.9M1128.3 23.6h1.9M1128.3 21.5h1.9M1128.3 19.4h1.9M1128.3 17.3h1.9M1128.3 15.2h1.9M1128.3 13.1h1.9M1128.3 11.1h1.9M1128.3 684.8h1.9M1128.3 680.7h1.9M1128.3 676.7h1.9M1128.3 672.6h1.9M1128.3 668.6h1.9M1128.3 664.5h1.9M1128.3 660.5h1.9M1128.3 656.4h1.9M1128.3 652.4h1.9M1128.3 648.3h1.9M1128.3 644.2h1.9M1128.3 640.2h1.9M1128.3 636.1h1.9M1128.3 632.1h1.9M1128.3 628.0h1.9M1128.3 624.0h1.9M1128.3 619.9h1.9M1128.3 615.9h1.9M1128.3 611.8h1.9M1128.3 607.8h1.9M1128.3 603.7h1.9M1128.3 599.6h1.9M1128.3 595.6h1.9M1128.3 591.5h1.9M1128.3 587.5h1.9M1128.3 583.4h1.9M1128.3 579.4h1.9M1128.3 575.3h1.9M1128.3 571.3h1.9M1128.3 567.2h1.9M1128.3 563.2h1.9M1128.3 559.1h1.9M1128.3 555.0h1.9M1128.3 551.0h1.9M1128.3 546.9h1.9M1128.3 542.9h1.9M1128.3 538.8h1.9M1128.3 534.8h1.9M1128.3 530.7h1.9M1128.3 526.7h1.9M1128.3 522.6h1.9" stroke="#7f819c" stroke-width="1.1" fill="none"/>
<g fill="#f5f6fa" fill-opacity="1"><rect x="67" y="17.5" width="194" height="14"/><rect x="67" y="31.5" width="88" height="13"/><rect x="67" y="44.5" width="88" height="13"/><rect x="67" y="57.5" width="93" height="13"/><rect x="67" y="70.5" width="114" height="11.5"/><rect x="67" y="518" width="272" height="13.5"/></g>
<g fill="#0a0a0a"><rect x="69.1" y="19.9" width="3.6" height="6.6" rx="1.5"/><path d="M70.6 24v4.4" stroke="#0a0a0a" stroke-width="1.3"/><path d="M72.5 23.5q1.2 2.2 2.2 0" stroke="#0a0a0a" stroke-width="1.2" fill="none"/><rect x="74.3" y="19.8" width="5.8" height="8.4" rx="2"/><rect x="76.3" y="22" width="1.5" height="3.6" rx="0.7" fill="#c8c8c8"/></g>
<text class="dj" x="83.5" y="28.7" textLength="174" lengthAdjust="spacing" style="fill:#222;stroke:#222;stroke-width:0.35px;font-size:11.4px">XPeng, Inc. (Weekly) 8.83</text>
<path d="M69 37.2H79.8" stroke="#3a7d34" stroke-width="2.4"/><text class="djc" x="81" y="41.8" textLength="71" lengthAdjust="spacingAndGlyphs" style="fill:#3a7d34;stroke:#3a7d34;font-size:10.9px;stroke-width:0.45px">EMA(20) 8.15</text>
<path d="M69 50.3H79.8" stroke="#2a2a9c" stroke-width="2.4"/><text class="djc" x="81" y="54.9" textLength="70.5" lengthAdjust="spacingAndGlyphs" style="fill:#2a2a9c;stroke:#2a2a9c;font-size:10.9px;stroke-width:0.45px">MA(50) 10.53</text>
<path d="M69 63.4H79.8" stroke="#cc2a2a" stroke-width="2.4"/><text class="djc" x="81" y="68.0" textLength="76" lengthAdjust="spacingAndGlyphs" style="fill:#cc2a2a;stroke:#cc2a2a;font-size:10.9px;stroke-width:0.45px">MA(200) 23.19</text>
<g fill="#4f7d4f"><rect x="68.8" y="74.5" width="2.4" height="5"/><rect x="71.6" y="72" width="2.6" height="7.5"/><rect x="74.6" y="73.5" width="2.4" height="6"/><rect x="77.4" y="73" width="2.4" height="6.5"/></g><text class="djc" x="81.8" y="80.0" textLength="96.7" lengthAdjust="spacingAndGlyphs" style="fill:#4f7d4f;stroke:#4f7d4f;font-size:10.9px;stroke-width:0.45px">Volume 42,130,740</text>
<g clip-path="url(#cd)"><path d="M59.9 603.7H71.9V581.6H59.9Z" fill="#9ac0b2" fill-opacity="0.9" stroke="#6f9f8e" stroke-width="1" stroke-opacity="0.9"/><path d="M80.1 603.7H92.1V584.0H80.1Z" fill="#9ac0b2" fill-opacity="0.9" stroke="#6f9f8e" stroke-width="1" stroke-opacity="0.9"/><path d="M100.3 603.7H112.3V592.3H100.3Z" fill="#9ac0b2" fill-opacity="0.9" stroke="#6f9f8e" stroke-width="1" stroke-opacity="0.9"/><path d="M120.5 603.7H132.5V593.3H120.5Z" fill="#9ac0b2" fill-opacity="0.9" stroke="#6f9f8e" stroke-width="1" stroke-opacity="0.9"/><path d="M140.7 603.7H152.7V596.1H140.7Z" fill="#9ac0b2" fill-opacity="0.9" stroke="#6f9f8e" stroke-width="1" stroke-opacity="0.9"/><path d="M160.9 603.2H172.9V604.2H160.9Z" fill="#9ac0b2" fill-opacity="0.9" stroke="#6f9f8e" stroke-width="1" stroke-opacity="0.9"/><path d="M181.1 603.7H193.1V614.6L191.4 616.3H181.1Z" fill="#9ac0b2" fill-opacity="0.9" stroke="#6f9f8e" stroke-width="1" stroke-opacity="0.9"/><path d="M201.2 603.7H213.2V619.2L211.5 620.9H201.2Z" fill="#9ac0b2" fill-opacity="0.9" stroke="#6f9f8e" stroke-width="1" stroke-opacity="0.9"/><path d="M221.4 603.7H233.4V615.8L231.7 617.5H221.4Z" fill="#9ac0b2" fill-opacity="0.9" stroke="#6f9f8e" stroke-width="1" stroke-opacity="0.9"/><path d="M241.6 603.7H253.6V618.2L251.9 619.9H241.6Z" fill="#9ac0b2" fill-opacity="0.9" stroke="#6f9f8e" stroke-width="1" stroke-opacity="0.9"/><path d="M261.8 603.7H273.8V614.6L272.1 616.3H261.8Z" fill="#9ac0b2" fill-opacity="0.9" stroke="#6f9f8e" stroke-width="1" stroke-opacity="0.9"/><path d="M282.0 603.7H294.0V608.6L292.3 610.3H282.0Z" fill="#9ac0b2" fill-opacity="0.9" stroke="#6f9f8e" stroke-width="1" stroke-opacity="0.9"/><path d="M302.2 603.7H314.2V612.0L312.5 613.7H302.2Z" fill="#9ac0b2" fill-opacity="0.9" stroke="#6f9f8e" stroke-width="1" stroke-opacity="0.9"/><path d="M322.4 603.7H334.4V614.4L332.7 616.1H322.4Z" fill="#9ac0b2" fill-opacity="0.9" stroke="#6f9f8e" stroke-width="1" stroke-opacity="0.9"/><path d="M342.6 603.7H354.6V619.1L352.9 620.8H342.6Z" fill="#9ac0b2" fill-opacity="0.9" stroke="#6f9f8e" stroke-width="1" stroke-opacity="0.9"/><path d="M362.8 603.7H374.8V622.7L373.1 624.4H362.8Z" fill="#9ac0b2" fill-opacity="0.9" stroke="#6f9f8e" stroke-width="1" stroke-opacity="0.9"/><path d="M383.0 603.7H395.0V621.7L393.3 623.4H383.0Z" fill="#9ac0b2" fill-opacity="0.9" stroke="#6f9f8e" stroke-width="1" stroke-opacity="0.9"/><path d="M403.2 603.7H415.2V623.7L413.5 625.4H403.2Z" fill="#9ac0b2" fill-opacity="0.9" stroke="#6f9f8e" stroke-width="1" stroke-opacity="0.9"/><path d="M423.4 603.7H435.4V628.5L433.7 630.2H423.4Z" fill="#9ac0b2" fill-opacity="0.9" stroke="#6f9f8e" stroke-width="1" stroke-opacity="0.9"/><path d="M443.5 603.7H455.5V635.6L453.8 637.3H443.5Z" fill="#9ac0b2" fill-opacity="0.9" stroke="#6f9f8e" stroke-width="1" stroke-opacity="0.9"/><path d="M463.7 603.7H475.7V640.2L474.0 641.9H463.7Z" fill="#9ac0b2" fill-opacity="0.9" stroke="#6f9f8e" stroke-width="1" stroke-opacity="0.9"/><path d="M483.9 603.7H495.9V642.7L494.2 644.4H483.9Z" fill="#9ac0b2" fill-opacity="0.9" stroke="#6f9f8e" stroke-width="1" stroke-opacity="0.9"/><path d="M504.1 603.7H516.1V641.8L514.4 643.5H504.1Z" fill="#9ac0b2" fill-opacity="0.9" stroke="#6f9f8e" stroke-width="1" stroke-opacity="0.9"/><path d="M524.3 603.7H536.3V636.0L534.6 637.7H524.3Z" fill="#9ac0b2" fill-opacity="0.9" stroke="#6f9f8e" stroke-width="1" stroke-opacity="0.9"/><path d="M544.5 603.7H556.5V632.3L554.8 634.0H544.5Z" fill="#9ac0b2" fill-opacity="0.9" stroke="#6f9f8e" stroke-width="1" stroke-opacity="0.9"/><path d="M564.7 603.7H576.7V625.3L575.0 627.0H564.7Z" fill="#9ac0b2" fill-opacity="0.9" stroke="#6f9f8e" stroke-width="1" stroke-opacity="0.9"/><path d="M584.9 603.7H596.9V620.4L595.2 622.1H584.9Z" fill="#9ac0b2" fill-opacity="0.9" stroke="#6f9f8e" stroke-width="1" stroke-opacity="0.9"/><path d="M605.1 603.7H617.1V614.8L615.4 616.5H605.1Z" fill="#9ac0b2" fill-opacity="0.9" stroke="#6f9f8e" stroke-width="1" stroke-opacity="0.9"/><path d="M625.3 603.7H637.3V613.8L635.6 615.5H625.3Z" fill="#9ac0b2" fill-opacity="0.9" stroke="#6f9f8e" stroke-width="1" stroke-opacity="0.9"/><path d="M645.5 603.7H657.5V614.8L655.8 616.5H645.5Z" fill="#9ac0b2" fill-opacity="0.9" stroke="#6f9f8e" stroke-width="1" stroke-opacity="0.9"/><path d="M665.7 603.7H677.7V613.8L676.0 615.5H665.7Z" fill="#9ac0b2" fill-opacity="0.9" stroke="#6f9f8e" stroke-width="1" stroke-opacity="0.9"/><path d="M685.9 603.7H697.9V612.4L696.2 614.1H685.9Z" fill="#9ac0b2" fill-opacity="0.9" stroke="#6f9f8e" stroke-width="1" stroke-opacity="0.9"/><path d="M706.0 603.7H718.0V612.4L716.3 614.1H706.0Z" fill="#9ac0b2" fill-opacity="0.9" stroke="#6f9f8e" stroke-width="1" stroke-opacity="0.9"/><path d="M726.2 603.7H738.2V607.7L736.5 609.4H726.2Z" fill="#9ac0b2" fill-opacity="0.9" stroke="#6f9f8e" stroke-width="1" stroke-opacity="0.9"/><path d="M746.4 603.2H758.4V604.2H746.4Z" fill="#9ac0b2" fill-opacity="0.9" stroke="#6f9f8e" stroke-width="1" stroke-opacity="0.9"/><path d="M766.6 603.7H778.6V601.8H766.6Z" fill="#9ac0b2" fill-opacity="0.9" stroke="#6f9f8e" stroke-width="1" stroke-opacity="0.9"/><path d="M786.8 603.7H798.8V599.3H786.8Z" fill="#9ac0b2" fill-opacity="0.9" stroke="#6f9f8e" stroke-width="1" stroke-opacity="0.9"/><path d="M807.0 603.7H819.0V596.9H807.0Z" fill="#9ac0b2" fill-opacity="0.9" stroke="#6f9f8e" stroke-width="1" stroke-opacity="0.9"/><path d="M827.2 603.7H839.2V595.7H827.2Z" fill="#9ac0b2" fill-opacity="0.9" stroke="#6f9f8e" stroke-width="1" stroke-opacity="0.9"/><path d="M847.4 603.7H859.4V594.7H847.4Z" fill="#9ac0b2" fill-opacity="0.9" stroke="#6f9f8e" stroke-width="1" stroke-opacity="0.9"/><path d="M867.6 603.7H879.6V596.9H867.6Z" fill="#9ac0b2" fill-opacity="0.9" stroke="#6f9f8e" stroke-width="1" stroke-opacity="0.9"/><path d="M887.8 603.7H899.8V596.9H887.8Z" fill="#9ac0b2" fill-opacity="0.9" stroke="#6f9f8e" stroke-width="1" stroke-opacity="0.9"/><path d="M908.0 603.7H920.0V596.9H908.0Z" fill="#9ac0b2" fill-opacity="0.9" stroke="#6f9f8e" stroke-width="1" stroke-opacity="0.9"/><path d="M928.2 603.7H940.2V595.9H928.2Z" fill="#9ac0b2" fill-opacity="0.9" stroke="#6f9f8e" stroke-width="1" stroke-opacity="0.9"/><path d="M948.3 603.7H960.3V592.3H948.3Z" fill="#9ac0b2" fill-opacity="0.9" stroke="#6f9f8e" stroke-width="1" stroke-opacity="0.9"/><path d="M968.5 603.7H980.5V592.3H968.5Z" fill="#9ac0b2" fill-opacity="0.9" stroke="#6f9f8e" stroke-width="1" stroke-opacity="0.9"/><path d="M988.7 603.7H1000.7V591.1H988.7Z" fill="#9ac0b2" fill-opacity="0.9" stroke="#6f9f8e" stroke-width="1" stroke-opacity="0.9"/><path d="M1008.9 603.7H1020.9V593.3H1008.9Z" fill="#9ac0b2" fill-opacity="0.9" stroke="#6f9f8e" stroke-width="1" stroke-opacity="0.9"/><path d="M1029.1 603.7H1041.1V597.1H1029.1Z" fill="#9ac0b2" fill-opacity="0.9" stroke="#6f9f8e" stroke-width="1" stroke-opacity="0.9"/><path d="M1049.3 603.7H1061.3V599.3H1049.3Z" fill="#9ac0b2" fill-opacity="0.9" stroke="#6f9f8e" stroke-width="1" stroke-opacity="0.9"/><path d="M1069.5 603.7H1081.5V600.4H1069.5Z" fill="#9ac0b2" fill-opacity="0.9" stroke="#6f9f8e" stroke-width="1" stroke-opacity="0.9"/><path d="M1089.7 603.7H1101.7V598.1H1089.7Z" fill="#9ac0b2" fill-opacity="0.9" stroke="#6f9f8e" stroke-width="1" stroke-opacity="0.9"/><path d="M1109.9 603.7H1121.9V594.7H1109.9Z" fill="#9ac0b2" fill-opacity="0.9" stroke="#6f9f8e" stroke-width="1" stroke-opacity="0.9"/></g>
<polyline points="65.9,550.5 86.1,545.3 106.3,542.3 126.5,539.9 146.7,537.8 166.9,538.2 187.1,541.3 207.2,544.7 227.4,548.3 247.6,552.4 267.8,555.8 288.0,557.3 308.2,559.9 328.4,563.3 348.6,566.9 368.8,571.3 389.0,577.0 409.2,582.0 429.4,588.5 449.5,596.6 469.7,606.6 489.9,616.7 510.1,626.5 530.3,635.0 550.5,642.3 570.7,648.1 590.9,651.8 611.1,655.2 631.3,658.4 651.5,660.8 671.7,663.3 691.9,666.9 712.0,669.5 732.2,670.5 752.4,670.5 772.6,669.5 792.8,668.3 813.0,666.9 833.2,664.5 853.4,662.3 873.6,660.8 893.8,658.8 914.0,657.4 934.2,655.2 954.3,652.4 974.5,649.8 994.7,647.2 1014.9,644.7 1035.1,642.1 1055.3,641.1 1075.5,640.7 1095.7,638.5 1115.9,636.1" fill="none" stroke="#b0385e" stroke-width="1.6" stroke-linejoin="round" clip-path="url(#cd)" />
<polyline points="146.7,529.5 166.9,538.2 187.1,553.4 207.2,562.8 227.4,561.4 247.6,567.5 267.8,567.5 288.0,562.5 308.2,569.3 328.4,576.8 348.6,584.1 368.8,591.1 389.0,595.6 409.2,604.6 429.4,614.7 449.5,630.9 469.7,645.0 489.9,657.1 510.1,665.5 530.3,668.3 550.5,671.9 570.7,670.3 590.9,669.3 611.1,668.3 631.3,669.5 651.5,672.9 671.7,675.4 691.9,676.6 712.0,677.6 732.2,675.4 752.4,669.9 772.6,666.9 792.8,663.3 813.0,659.4 833.2,655.8 853.4,653.8 873.6,653.8 893.8,651.8 914.0,650.4 934.2,648.1 954.3,641.7 974.5,637.5 994.7,633.0 1014.9,633.0 1035.1,635.7 1055.3,636.1 1075.5,637.5 1095.7,632.0 1115.9,627.6" fill="none" stroke="#262626" stroke-width="2.3" stroke-linejoin="round" clip-path="url(#cd)" />
<rect x="67" y="518" width="272" height="13.5" fill="#f5f6fa"/>
<path d="M68.8 524.8H79.6" stroke="#111" stroke-width="2.2"/>
<text class="dj" x="83.8" y="529.2" textLength="248.3" lengthAdjust="spacing" style="fill:#222;stroke:#222;font-size:11.3px;stroke-width:0.35px">MACD(12,26,9) -0.576<tspan style="fill:#b0385e;stroke:#b0385e">, -0.802</tspan><tspan style="fill:#8fb5a5;stroke:#8fb5a5">, 0.227</tspan></text>
<text transform="translate(1156 24.8) scale(1.09 1)" text-anchor="end" style="font-size:11px">20.0</text><text transform="translate(1156 35.4) scale(1.09 1)" text-anchor="end" style="font-size:11px">19.5</text><text transform="translate(1156 46.4) scale(1.09 1)" text-anchor="end" style="font-size:11px">19.0</text><text transform="translate(1156 57.6) scale(1.09 1)" text-anchor="end" style="font-size:11px">18.5</text><text transform="translate(1156 69.2) scale(1.09 1)" text-anchor="end" style="font-size:11px">18.0</text><text transform="translate(1156 81.1) scale(1.09 1)" text-anchor="end" style="font-size:11px">17.5</text><text transform="translate(1156 93.3) scale(1.09 1)" text-anchor="end" style="font-size:11px">17.0</text><text transform="translate(1156 105.9) scale(1.09 1)" text-anchor="end" style="font-size:11px">16.5</text><text transform="translate(1156 118.9) scale(1.09 1)" text-anchor="end" style="font-size:11px">16.0</text><text transform="translate(1156 132.3) scale(1.09 1)" text-anchor="end" style="font-size:11px">15.5</text><text transform="translate(1156 146.1) scale(1.09 1)" text-anchor="end" style="font-size:11px">15.0</text><text transform="translate(1156 160.4) scale(1.09 1)" text-anchor="end" style="font-size:11px">14.5</text><text transform="translate(1156 175.2) scale(1.09 1)" text-anchor="end" style="font-size:11px">14.0</text><text transform="translate(1156 190.5) scale(1.09 1)" text-anchor="end" style="font-size:11px">13.5</text><text transform="translate(1156 206.5) scale(1.09 1)" text-anchor="end" style="font-size:11px">13.0</text><text transform="translate(1156 223.0) scale(1.09 1)" text-anchor="end" style="font-size:11px">12.5</text><text transform="translate(1156 240.2) scale(1.09 1)" text-anchor="end" style="font-size:11px">12.0</text><text transform="translate(1156 258.2) scale(1.09 1)" text-anchor="end" style="font-size:11px">11.5</text><text transform="translate(1156 276.9) scale(1.09 1)" text-anchor="end" style="font-size:11px">11.0</text><text transform="translate(1156 317.1) scale(1.09 1)" text-anchor="end" style="font-size:11px">10.0</text><text transform="translate(1156 338.8) scale(1.09 1)" text-anchor="end" style="font-size:11px">9.5</text><text transform="translate(1156 361.6) scale(1.09 1)" text-anchor="end" style="font-size:11px">9.0</text><text transform="translate(1156 385.7) scale(1.09 1)" text-anchor="end" style="font-size:11px">8.5</text><text transform="translate(1156 411.2) scale(1.09 1)" text-anchor="end" style="font-size:11px">8.0</text><text transform="translate(1156 438.5) scale(1.09 1)" text-anchor="end" style="font-size:11px">7.5</text><text transform="translate(1156 467.6) scale(1.09 1)" text-anchor="end" style="font-size:11px">7.0</text><text transform="translate(1156 497.2) scale(1.09 1)" text-anchor="end" style="font-size:11px">6.5</text><g clip-path="url(#cg)"><text transform="translate(1159.5 13.4) scale(1.09 1)" text-anchor="end" style="font-size:11px">-70%</text></g><text transform="translate(1152.5 525.6) scale(1.09 1)" text-anchor="end" style="font-size:11px">2.0</text><text transform="translate(1152.5 545.9) scale(1.09 1)" text-anchor="end" style="font-size:11px">1.5</text><text transform="translate(1152.5 566.2) scale(1.09 1)" text-anchor="end" style="font-size:11px">1.0</text><text transform="translate(1152.5 586.4) scale(1.09 1)" text-anchor="end" style="font-size:11px">0.5</text><text transform="translate(1152.5 606.7) scale(1.09 1)" text-anchor="end" style="font-size:11px">0.0</text><text transform="translate(1152.5 627.0) scale(1.09 1)" text-anchor="end" style="font-size:11px">-0.5</text><text transform="translate(1152.5 647.2) scale(1.09 1)" text-anchor="end" style="font-size:11px">-1.0</text><text transform="translate(1152.5 667.5) scale(1.09 1)" text-anchor="end" style="font-size:11px">-1.5</text><path d="M1128.0 21.5h3" stroke="#7c7e98" stroke-width="1"/><path d="M1128.0 32.2h3" stroke="#7c7e98" stroke-width="1"/><path d="M1128.0 43.1h3" stroke="#7c7e98" stroke-width="1"/><path d="M1128.0 54.4h3" stroke="#7c7e98" stroke-width="1"/><path d="M1128.0 65.9h3" stroke="#7c7e98" stroke-width="1"/><path d="M1128.0 77.8h3" stroke="#7c7e98" stroke-width="1"/><path d="M1128.0 90.1h3" stroke="#7c7e98" stroke-width="1"/><path d="M1128.0 102.6h3" stroke="#7c7e98" stroke-width="1"/><path d="M1128.0 115.6h3" stroke="#7c7e98" stroke-width="1"/><path d="M1128.0 129.0h3" stroke="#7c7e98" stroke-width="1"/><path d="M1128.0 142.8h3" stroke="#7c7e98" stroke-width="1"/><path d="M1128.0 157.1h3" stroke="#7c7e98" stroke-width="1"/><path d="M1128.0 171.9h3" stroke="#7c7e98" stroke-width="1"/><path d="M1128.0 187.3h3" stroke="#7c7e98" stroke-width="1"/><path d="M1128.0 203.2h3" stroke="#7c7e98" stroke-width="1"/><path d="M1128.0 219.7h3" stroke="#7c7e98" stroke-width="1"/><path d="M1128.0 237.0h3" stroke="#7c7e98" stroke-width="1"/><path d="M1128.0 254.9h3" stroke="#7c7e98" stroke-width="1"/><path d="M1128.0 273.7h3" stroke="#7c7e98" stroke-width="1"/><path d="M1128.0 313.9h3" stroke="#7c7e98" stroke-width="1"/><path d="M1128.0 335.5h3" stroke="#7c7e98" stroke-width="1"/><path d="M1128.0 358.3h3" stroke="#7c7e98" stroke-width="1"/><path d="M1128.0 382.4h3" stroke="#7c7e98" stroke-width="1"/><path d="M1128.0 408.0h3" stroke="#7c7e98" stroke-width="1"/><path d="M1128.0 435.2h3" stroke="#7c7e98" stroke-width="1"/><path d="M1128.0 464.3h3" stroke="#7c7e98" stroke-width="1"/><path d="M1128.0 495.6h3" stroke="#7c7e98" stroke-width="1"/><path d="M1128.0 522.6h3" stroke="#7c7e98" stroke-width="1"/><path d="M1128.0 542.9h3" stroke="#7c7e98" stroke-width="1"/><path d="M1128.0 563.2h3" stroke="#7c7e98" stroke-width="1"/><path d="M1128.0 583.4h3" stroke="#7c7e98" stroke-width="1"/><path d="M1128.0 603.7h3" stroke="#7c7e98" stroke-width="1"/><path d="M1128.0 624.0h3" stroke="#7c7e98" stroke-width="1"/><path d="M1128.0 644.2h3" stroke="#7c7e98" stroke-width="1"/><path d="M1128.0 664.5h3" stroke="#7c7e98" stroke-width="1"/><text transform="translate(62.3 481.5) scale(1.09 1)" text-anchor="end" style="font-size:11px">20M</text><path d="M62.8 477.5H66" stroke="#666" stroke-width="1"/><text transform="translate(62.3 459.5) scale(1.09 1)" text-anchor="end" style="font-size:11px">40M</text><path d="M62.8 455.5H66" stroke="#666" stroke-width="1"/><text transform="translate(62.3 437.5) scale(1.09 1)" text-anchor="end" style="font-size:11px">60M</text><path d="M62.8 433.5H66" stroke="#666" stroke-width="1"/><text transform="translate(62.3 415.5) scale(1.09 1)" text-anchor="end" style="font-size:11px">80M</text><path d="M62.8 411.5H66" stroke="#666" stroke-width="1"/><text transform="translate(62.3 393.5) scale(1.09 1)" text-anchor="end" style="font-size:11px">100M</text><path d="M62.8 389.5H66" stroke="#666" stroke-width="1"/><text transform="translate(62.3 371.5) scale(1.09 1)" text-anchor="end" style="font-size:11px">120M</text><path d="M62.8 367.5H66" stroke="#666" stroke-width="1"/><text transform="translate(62.3 349.5) scale(1.09 1)" text-anchor="end" style="font-size:11px">140M</text><path d="M62.8 345.5H66" stroke="#666" stroke-width="1"/><text x="66.3" y="513.1" text-anchor="middle" style="font-size:11px;stroke-width:0.45px;letter-spacing:0.9px">Sep</text><text x="66.3" y="698.8" text-anchor="middle" style="font-size:11px;stroke-width:0.45px;letter-spacing:0.9px">Sep</text><text x="147.1" y="513.1" text-anchor="middle" style="font-size:11px;stroke-width:0.45px;letter-spacing:0.9px">Oct</text><text x="147.1" y="698.8" text-anchor="middle" style="font-size:11px;stroke-width:0.45px;letter-spacing:0.9px">Oct</text><text x="248.0" y="513.1" text-anchor="middle" style="font-size:11px;stroke-width:0.45px;letter-spacing:0.9px">Nov</text><text x="248.0" y="698.8" text-anchor="middle" style="font-size:11px;stroke-width:0.45px;letter-spacing:0.9px">Nov</text><text x="328.8" y="513.1" text-anchor="middle" style="font-size:11px;stroke-width:0.45px;letter-spacing:0.9px">Dec</text><text x="328.8" y="698.8" text-anchor="middle" style="font-size:11px;stroke-width:0.45px;letter-spacing:0.9px">Dec</text><text x="409.2" y="512.7" text-anchor="middle" style="fill:#111;stroke:#111;stroke-width:0.4px;font-size:12.3px;letter-spacing:0.3px;font-weight:bold">2024</text><text x="409.2" y="698.4" text-anchor="middle" style="fill:#111;stroke:#111;stroke-width:0.4px;font-size:12.3px;letter-spacing:0.3px;font-weight:bold">2024</text><text x="510.5" y="513.1" text-anchor="middle" style="font-size:11px;stroke-width:0.45px;letter-spacing:0.9px">Feb</text><text x="510.5" y="698.8" text-anchor="middle" style="font-size:11px;stroke-width:0.45px;letter-spacing:0.9px">Feb</text><text x="591.3" y="513.1" text-anchor="middle" style="font-size:11px;stroke-width:0.45px;letter-spacing:0.9px">Mar</text><text x="591.3" y="698.8" text-anchor="middle" style="font-size:11px;stroke-width:0.45px;letter-spacing:0.9px">Mar</text><text x="672.1" y="513.1" text-anchor="middle" style="font-size:11px;stroke-width:0.45px;letter-spacing:0.9px">Apr</text><text x="672.1" y="698.8" text-anchor="middle" style="font-size:11px;stroke-width:0.45px;letter-spacing:0.9px">Apr</text><text x="773.0" y="513.1" text-anchor="middle" style="font-size:11px;stroke-width:0.45px;letter-spacing:0.9px">May</text><text x="773.0" y="698.8" text-anchor="middle" style="font-size:11px;stroke-width:0.45px;letter-spacing:0.9px">May</text><text x="853.8" y="513.1" text-anchor="middle" style="font-size:11px;stroke-width:0.45px;letter-spacing:0.9px">Jun</text><text x="853.8" y="698.8" text-anchor="middle" style="font-size:11px;stroke-width:0.45px;letter-spacing:0.9px">Jun</text><text x="934.6" y="513.1" text-anchor="middle" style="font-size:11px;stroke-width:0.45px;letter-spacing:0.9px">Jul</text><text x="934.6" y="698.8" text-anchor="middle" style="font-size:11px;stroke-width:0.45px;letter-spacing:0.9px">Jul</text><text x="1035.5" y="513.1" text-anchor="middle" style="font-size:11px;stroke-width:0.45px;letter-spacing:0.9px">Aug</text><text x="1035.5" y="698.8" text-anchor="middle" style="font-size:11px;stroke-width:0.45px;letter-spacing:0.9px">Aug</text><text x="1116.3" y="513.1" text-anchor="middle" style="font-size:11px;stroke-width:0.45px;letter-spacing:0.9px">Sep</text><text x="1116.3" y="698.8" text-anchor="middle" style="font-size:11px;stroke-width:0.45px;letter-spacing:0.9px">Sep</text><path d="M65.9 516.8v-3.0" stroke="#777a88" stroke-width="1"/><path d="M65.9 500.4v3.2" stroke="#777a88" stroke-width="1"/><path d="M65.9 686.0v3.2" stroke="#777a88" stroke-width="1"/><path d="M86.1 516.8v-2.0" stroke="#777a88" stroke-width="1"/><path d="M86.1 500.4v2.2" stroke="#777a88" stroke-width="1"/><path d="M86.1 686.0v2.2" stroke="#777a88" stroke-width="1"/><path d="M106.3 516.8v-2.0" stroke="#777a88" stroke-width="1"/><path d="M106.3 500.4v2.2" stroke="#777a88" stroke-width="1"/><path d="M106.3 686.0v2.2" stroke="#777a88" stroke-width="1"/><path d="M126.5 516.8v-2.0" stroke="#777a88" stroke-width="1"/><path d="M126.5 500.4v2.2" stroke="#777a88" stroke-width="1"/><path d="M126.5 686.0v2.2" stroke="#777a88" stroke-width="1"/><path d="M146.7 516.8v-3.0" stroke="#777a88" stroke-width="1"/><path d="M146.7 500.4v3.2" stroke="#777a88" stroke-width="1"/><path d="M146.7 686.0v3.2" stroke="#777a88" stroke-width="1"/><path d="M166.9 516.8v-2.0" stroke="#777a88" stroke-width="1"/><path d="M166.9 500.4v2.2" stroke="#777a88" stroke-width="1"/><path d="M166.9 686.0v2.2" stroke="#777a88" stroke-width="1"/><path d="M187.1 516.8v-2.0" stroke="#777a88" stroke-width="1"/><path d="M187.1 500.4v2.2" stroke="#777a88" stroke-width="1"/><path d="M187.1 686.0v2.2" stroke="#777a88" stroke-width="1"/><path d="M207.2 516.8v-2.0" stroke="#777a88" stroke-width="1"/><path d="M207.2 500.4v2.2" stroke="#777a88" stroke-width="1"/><path d="M207.2 686.0v2.2" stroke="#777a88" stroke-width="1"/><path d="M227.4 516.8v-2.0" stroke="#777a88" stroke-width="1"/><path d="M227.4 500.4v2.2" stroke="#777a88" stroke-width="1"/><path d="M227.4 686.0v2.2" stroke="#777a88" stroke-width="1"/><path d="M247.6 516.8v-3.0" stroke="#777a88" stroke-width="1"/><path d="M247.6 500.4v3.2" stroke="#777a88" stroke-width="1"/><path d="M247.6 686.0v3.2" stroke="#777a88" stroke-width="1"/><path d="M267.8 516.8v-2.0" stroke="#777a88" stroke-width="1"/><path d="M267.8 500.4v2.2" stroke="#777a88" stroke-width="1"/><path d="M267.8 686.0v2.2" stroke="#777a88" stroke-width="1"/><path d="M288.0 516.8v-2.0" stroke="#777a88" stroke-width="1"/><path d="M288.0 500.4v2.2" stroke="#777a88" stroke-width="1"/><path d="M288.0 686.0v2.2" stroke="#777a88" stroke-width="1"/><path d="M308.2 516.8v-2.0" stroke="#777a88" stroke-width="1"/><path d="M308.2 500.4v2.2" stroke="#777a88" stroke-width="1"/><path d="M308.2 686.0v2.2" stroke="#777a88" stroke-width="1"/><path d="M328.4 516.8v-3.0" stroke="#777a88" stroke-width="1"/><path d="M328.4 500.4v3.2" stroke="#777a88" stroke-width="1"/><path d="M328.4 686.0v3.2" stroke="#777a88" stroke-width="1"/><path d="M348.6 516.8v-2.0" stroke="#777a88" stroke-width="1"/><path d="M348.6 500.4v2.2" stroke="#777a88" stroke-width="1"/><path d="M348.6 686.0v2.2" stroke="#777a88" stroke-width="1"/><path d="M368.8 516.8v-2.0" stroke="#777a88" stroke-width="1"/><path d="M368.8 500.4v2.2" stroke="#777a88" stroke-width="1"/><path d="M368.8 686.0v2.2" stroke="#777a88" stroke-width="1"/><path d="M389.0 516.8v-2.0" stroke="#777a88" stroke-width="1"/><path d="M389.0 500.4v2.2" stroke="#777a88" stroke-width="1"/><path d="M389.0 686.0v2.2" stroke="#777a88" stroke-width="1"/><path d="M409.2 516.8v-3.0" stroke="#777a88" stroke-width="1"/><path d="M409.2 500.4v3.2" stroke="#777a88" stroke-width="1"/><path d="M409.2 686.0v3.2" stroke="#777a88" stroke-width="1"/><path d="M429.4 516.8v-2.0" stroke="#777a88" stroke-width="1"/><path d="M429.4 500.4v2.2" stroke="#777a88" stroke-width="1"/><path d="M429.4 686.0v2.2" stroke="#777a88" stroke-width="1"/><path d="M449.5 516.8v-2.0" stroke="#777a88" stroke-width="1"/><path d="M449.5 500.4v2.2" stroke="#777a88" stroke-width="1"/><path d="M449.5 686.0v2.2" stroke="#777a88" stroke-width="1"/><path d="M469.7 516.8v-2.0" stroke="#777a88" stroke-width="1"/><path d="M469.7 500.4v2.2" stroke="#777a88" stroke-width="1"/><path d="M469.7 686.0v2.2" stroke="#777a88" stroke-width="1"/><path d="M489.9 516.8v-2.0" stroke="#777a88" stroke-width="1"/><path d="M489.9 500.4v2.2" stroke="#777a88" stroke-width="1"/><path d="M489.9 686.0v2.2" stroke="#777a88" stroke-width="1"/><path d="M510.1 516.8v-3.0" stroke="#777a88" stroke-width="1"/><path d="M510.1 500.4v3.2" stroke="#777a88" stroke-width="1"/><path d="M510.1 686.0v3.2" stroke="#777a88" stroke-width="1"/><path d="M530.3 516.8v-2.0" stroke="#777a88" stroke-width="1"/><path d="M530.3 500.4v2.2" stroke="#777a88" stroke-width="1"/><path d="M530.3 686.0v2.2" stroke="#777a88" stroke-width="1"/><path d="M550.5 516.8v-2.0" stroke="#777a88" stroke-width="1"/><path d="M550.5 500.4v2.2" stroke="#777a88" stroke-width="1"/><path d="M550.5 686.0v2.2" stroke="#777a88" stroke-width="1"/><path d="M570.7 516.8v-2.0" stroke="#777a88" stroke-width="1"/><path d="M570.7 500.4v2.2" stroke="#777a88" stroke-width="1"/><path d="M570.7 686.0v2.2" stroke="#777a88" stroke-width="1"/><path d="M590.9 516.8v-3.0" stroke="#777a88" stroke-width="1"/><path d="M590.9 500.4v3.2" stroke="#777a88" stroke-width="1"/><path d="M590.9 686.0v3.2" stroke="#777a88" stroke-width="1"/><path d="M611.1 516.8v-2.0" stroke="#777a88" stroke-width="1"/><path d="M611.1 500.4v2.2" stroke="#777a88" stroke-width="1"/><path d="M611.1 686.0v2.2" stroke="#777a88" stroke-width="1"/><path d="M631.3 516.8v-2.0" stroke="#777a88" stroke-width="1"/><path d="M631.3 500.4v2.2" stroke="#777a88" stroke-width="1"/><path d="M631.3 686.0v2.2" stroke="#777a88" stroke-width="1"/><path d="M651.5 516.8v-2.0" stroke="#777a88" stroke-width="1"/><path d="M651.5 500.4v2.2" stroke="#777a88" stroke-width="1"/><path d="M651.5 686.0v2.2" stroke="#777a88" stroke-width="1"/><path d="M671.7 516.8v-3.0" stroke="#777a88" stroke-width="1"/><path d="M671.7 500.4v3.2" stroke="#777a88" stroke-width="1"/><path d="M671.7 686.0v3.2" stroke="#777a88" stroke-width="1"/><path d="M691.9 516.8v-2.0" stroke="#777a88" stroke-width="1"/><path d="M691.9 500.4v2.2" stroke="#777a88" stroke-width="1"/><path d="M691.9 686.0v2.2" stroke="#777a88" stroke-width="1"/><path d="M712.0 516.8v-2.0" stroke="#777a88" stroke-width="1"/><path d="M712.0 500.4v2.2" stroke="#777a88" stroke-width="1"/><path d="M712.0 686.0v2.2" stroke="#777a88" stroke-width="1"/><path d="M732.2 516.8v-2.0" stroke="#777a88" stroke-width="1"/><path d="M732.2 500.4v2.2" stroke="#777a88" stroke-width="1"/><path d="M732.2 686.0v2.2" stroke="#777a88" stroke-width="1"/><path d="M752.4 516.8v-2.0" stroke="#777a88" stroke-width="1"/><path d="M752.4 500.4v2.2" stroke="#777a88" stroke-width="1"/><path d="M752.4 686.0v2.2" stroke="#777a88" stroke-width="1"/><path d="M772.6 516.8v-3.0" stroke="#777a88" stroke-width="1"/><path d="M772.6 500.4v3.2" stroke="#777a88" stroke-width="1"/><path d="M772.6 686.0v3.2" stroke="#777a88" stroke-width="1"/><path d="M792.8 516.8v-2.0" stroke="#777a88" stroke-width="1"/><path d="M792.8 500.4v2.2" stroke="#777a88" stroke-width="1"/><path d="M792.8 686.0v2.2" stroke="#777a88" stroke-width="1"/><path d="M813.0 516.8v-2.0" stroke="#777a88" stroke-width="1"/><path d="M813.0 500.4v2.2" stroke="#777a88" stroke-width="1"/><path d="M813.0 686.0v2.2" stroke="#777a88" stroke-width="1"/><path d="M833.2 516.8v-2.0" stroke="#777a88" stroke-width="1"/><path d="M833.2 500.4v2.2" stroke="#777a88" stroke-width="1"/><path d="M833.2 686.0v2.2" stroke="#777a88" stroke-width="1"/><path d="M853.4 516.8v-3.0" stroke="#777a88" stroke-width="1"/><path d="M853.4 500.4v3.2" stroke="#777a88" stroke-width="1"/><path d="M853.4 686.0v3.2" stroke="#777a88" stroke-width="1"/><path d="M873.6 516.8v-2.0" stroke="#777a88" stroke-width="1"/><path d="M873.6 500.4v2.2" stroke="#777a88" stroke-width="1"/><path d="M873.6 686.0v2.2" stroke="#777a88" stroke-width="1"/><path d="M893.8 516.8v-2.0" stroke="#777a88" stroke-width="1"/><path d="M893.8 500.4v2.2" stroke="#777a88" stroke-width="1"/><path d="M893.8 686.0v2.2" stroke="#777a88" stroke-width="1"/><path d="M914.0 516.8v-2.0" stroke="#777a88" stroke-width="1"/><path d="M914.0 500.4v2.2" stroke="#777a88" stroke-width="1"/><path d="M914.0 686.0v2.2" stroke="#777a88" stroke-width="1"/><path d="M934.2 516.8v-3.0" stroke="#777a88" stroke-width="1"/><path d="M934.2 500.4v3.2" stroke="#777a88" stroke-width="1"/><path d="M934.2 686.0v3.2" stroke="#777a88" stroke-width="1"/><path d="M954.3 516.8v-2.0" stroke="#777a88" stroke-width="1"/><path d="M954.3 500.4v2.2" stroke="#777a88" stroke-width="1"/><path d="M954.3 686.0v2.2" stroke="#777a88" stroke-width="1"/><path d="M974.5 516.8v-2.0" stroke="#777a88" stroke-width="1"/><path d="M974.5 500.4v2.2" stroke="#777a88" stroke-width="1"/><path d="M974.5 686.0v2.2" stroke="#777a88" stroke-width="1"/><path d="M994.7 516.8v-2.0" stroke="#777a88" stroke-width="1"/><path d="M994.7 500.4v2.2" stroke="#777a88" stroke-width="1"/><path d="M994.7 686.0v2.2" stroke="#777a88" stroke-width="1"/><path d="M1014.9 516.8v-2.0" stroke="#777a88" stroke-width="1"/><path d="M1014.9 500.4v2.2" stroke="#777a88" stroke-width="1"/><path d="M1014.9 686.0v2.2" stroke="#777a88" stroke-width="1"/><path d="M1035.1 516.8v-3.0" stroke="#777a88" stroke-width="1"/><path d="M1035.1 500.4v3.2" stroke="#777a88" stroke-width="1"/><path d="M1035.1 686.0v3.2" stroke="#777a88" stroke-width="1"/><path d="M1055.3 516.8v-2.0" stroke="#777a88" stroke-width="1"/><path d="M1055.3 500.4v2.2" stroke="#777a88" stroke-width="1"/><path d="M1055.3 686.0v2.2" stroke="#777a88" stroke-width="1"/><path d="M1075.5 516.8v-2.0" stroke="#777a88" stroke-width="1"/><path d="M1075.5 500.4v2.2" stroke="#777a88" stroke-width="1"/><path d="M1075.5 686.0v2.2" stroke="#777a88" stroke-width="1"/><path d="M1095.7 516.8v-2.0" stroke="#777a88" stroke-width="1"/><path d="M1095.7 500.4v2.2" stroke="#777a88" stroke-width="1"/><path d="M1095.7 686.0v2.2" stroke="#777a88" stroke-width="1"/><path d="M1115.9 516.8v-3.0" stroke="#777a88" stroke-width="1"/><path d="M1115.9 500.4v3.2" stroke="#777a88" stroke-width="1"/><path d="M1115.9 686.0v3.2" stroke="#777a88" stroke-width="1"/>
<g clip-path="url(#cg)">
<path d="M1126 290.8L1130.3 284.7H1165.2V296.9H1130.3Z" fill="#fff" stroke="#3a3aaa" stroke-width="1.5" stroke-linejoin="miter"/><text transform="translate(1131.5 294.8) scale(1.09 1)" style="font-size:11px">10.53</text>
<path d="M1126 453.0L1130.3 446.9H1190.0V459.1H1130.3Z" fill="#fff" stroke="#222" stroke-width="1.5" stroke-linejoin="miter"/><text transform="translate(1132.0 457.0) scale(1.09 1)" style="font-size:11px">42130740</text>
<path d="M1126 398.5L1130.3 392.4H1157.7V404.6H1130.3Z" fill="#fff" stroke="#3a7d34" stroke-width="1.5" stroke-linejoin="miter"/><text transform="translate(1132.5 402.5) scale(1.09 1)" style="font-size:11px">8.15</text>
<path d="M1126 365.9L1130.3 359.3H1157.7V372.5H1130.3Z" fill="#fff" stroke="#111" stroke-width="1.5" stroke-linejoin="miter"/><text transform="translate(1131.3 369.9) scale(1.09 1)" style="font-size:11px;font-weight:bold">8.83</text>
<path d="M1126 593.7L1130.3 587.6H1164.8V599.8H1130.3Z" fill="#fff" stroke="#8486bd" stroke-width="1.5" stroke-linejoin="miter"/><text transform="translate(1132.0 597.7) scale(1.09 1)" style="font-size:11px">0.227</text>
<path d="M1126 636.4L1130.3 631.1H1168.2V641.6H1130.3Z" fill="#fff" stroke="#b0385e" stroke-width="1.5" stroke-linejoin="miter"/><text transform="translate(1131.5 640.4) scale(1.09 1)" style="font-size:11px">-0.802</text>
<path d="M1126 626.6L1130.3 620.8H1168.2V632.4H1130.3Z" fill="#fff" stroke="#111" stroke-width="1.5" stroke-linejoin="miter"/><text transform="translate(1131.5 630.6) scale(1.09 1)" style="font-size:11px">-0.576</text>
</g>
</svg></body></html>
